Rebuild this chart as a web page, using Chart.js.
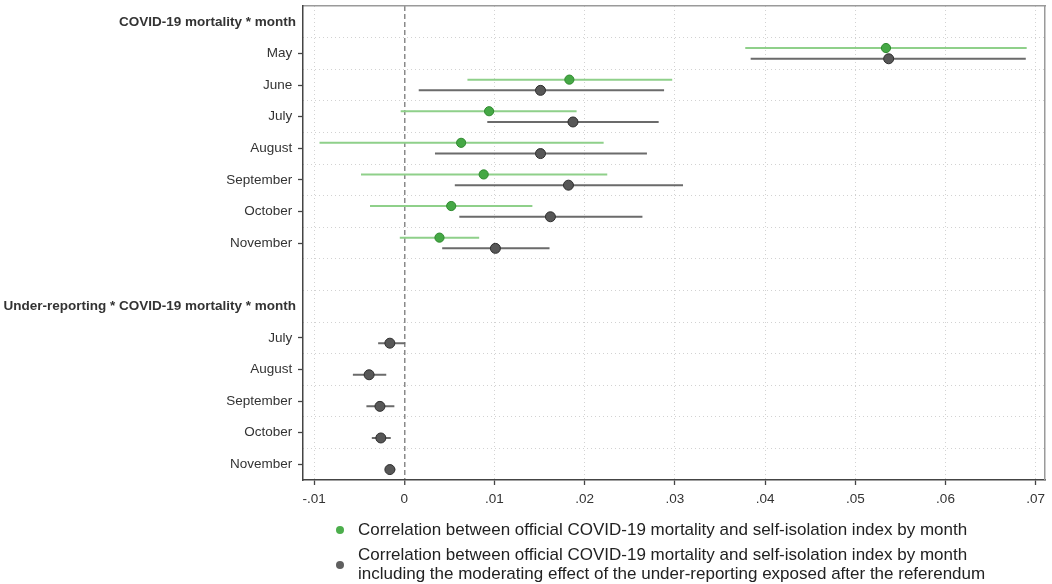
<!DOCTYPE html>
<html>
<head>
<meta charset="utf-8">
<script src="https://cdn.jsdelivr.net/npm/chart.js@4.4.1/dist/chart.umd.min.js"></script>
<style>
  body { margin: 0; background: #fff; }
  #wrap { position: relative; width: 1052px; height: 584px; }
  #legend { position: absolute; left: 0; top: 0; font-family: "Liberation Sans", Arial, sans-serif; color: #222; }
  .dot { position: absolute; width: 8px; height: 8px; border-radius: 50%; }
  .txt { position: absolute; font-size: 17px; line-height: 18.6px; white-space: nowrap; }
</style>
</head>
<body>
<div id="wrap">
  <canvas id="chart" width="1052" height="584"></canvas>
  <div id="legend">
    <div class="dot" style="left:336px;top:526px;background:#4cae4c;"></div>
    <div class="txt" style="left:358px;top:521px;">Correlation between official COVID-19 mortality and self-isolation index by month</div>
    <div class="dot" style="left:336px;top:561px;background:#5f5f5f;"></div>
    <div class="txt" style="left:358px;top:546px;">Correlation between official COVID-19 mortality and self-isolation index by month<br>including the moderating effect of the under-reporting exposed after the referendum</div>
  </div>
</div>
<script>
const header1 = "COVID-19 mortality * month";
const header2 = "Under-reporting * COVID-19 mortality * month";
const months1 = ["May", "June", "July", "August", "September", "October", "November"];
const months2 = ["July", "August", "September", "October", "November"];

// official mortality * month (green)
const greenEst = [0.0534, 0.0183, 0.0094, 0.0063, 0.0088, 0.0052, 0.0039];
const greenLo  = [0.0378, 0.0070, -0.0004, -0.0094, -0.0048, -0.0038, -0.0005];
const greenHi  = [0.0690, 0.0297, 0.0191, 0.0221, 0.0225, 0.0142, 0.0083];

// with under-reporting moderation (gray)
const grayEst = [0.0537, 0.0151, 0.0187, 0.0151, 0.0182, 0.0162, 0.0101];
const grayLo  = [0.0384, 0.0016, 0.0092, 0.0034, 0.0056, 0.0061, 0.0042];
const grayHi  = [0.0689, 0.0288, 0.0282, 0.0269, 0.0309, 0.0264, 0.0161];

// under-reporting * mortality * month
const underEst = [-0.0016, -0.0039, -0.0027, -0.0026, -0.0016];
const underLo  = [-0.0029, -0.0057, -0.0042, -0.0036, -0.0021];
const underHi  = [0.0001, -0.0020, -0.0011, -0.0015, -0.0010];

const xTicks = [-0.01, 0, 0.01, 0.02, 0.03, 0.04, 0.05, 0.06, 0.07];

const rowLabels = [header1, ...months1, "", header2, ...months2];
const headerRows = [0, rowLabels.indexOf(header2)];
const blankRow = months1.length + 1;
const firstRow1 = 1;
const firstRow2 = headerRows[1] + 1;
const off = 0.17;

function pts(est, start, dy) {
  return est.map((v, i) => ({ x: v, y: start + i + dy }));
}
function bars(lo, hi, start, dy) {
  const out = [];
  lo.forEach((v, i) => {
    out.push({ x: v, y: start + i + dy }, { x: hi[i], y: start + i + dy }, { x: null, y: null });
  });
  return out;
}
function fmt(v) {
  if (Math.abs(v) < 1e-9) return "0";
  const s = v.toFixed(2);
  return s.replace("0.", ".");
}

const FONT = "'Liberation Sans', Arial, sans-serif";

new Chart(document.getElementById("chart"), {
  type: "scatter",
  data: {
    datasets: [
      {
        data: pts(greenEst, firstRow1, -off),
        backgroundColor: "#45a845", borderColor: "#2f8a2f", borderWidth: 1, pointRadius: 4.6
      },
      {
        data: [...pts(grayEst, firstRow1, off), ...pts(underEst, firstRow2, off)],
        backgroundColor: "#575757", borderColor: "#2e2e2e", borderWidth: 1, pointRadius: 5
      },
      {
        data: bars(greenLo, greenHi, firstRow1, -off),
        showLine: true, borderColor: "#8fd08a", borderWidth: 2, pointRadius: 0, spanGaps: false
      },
      {
        data: [...bars(grayLo, grayHi, firstRow1, off), ...bars(underLo, underHi, firstRow2, off)],
        showLine: true, borderColor: "#6b6b6b", borderWidth: 2, pointRadius: 0, spanGaps: false
      }
    ]
  },
  options: {
    responsive: false,
    animation: false,
    events: [],
    layout: { padding: { top: 6, left: 0, right: 0, bottom: 0 } },
    plugins: { legend: { display: false }, tooltip: { enabled: false } },
    scales: {
      x: {
        type: "linear",
        position: "bottom",
        min: -0.01123,
        max: 0.07103,
        afterBuildTicks: s => { s.ticks = xTicks.map(v => ({ value: v })); },
        afterFit: s => { s.height = 104; },
        ticks: {
          callback: v => fmt(v),
          color: "#333",
          padding: 6,
          font: { family: FONT, size: 13.5 },
          maxRotation: 0
        },
        grid: {
          color: c => (c.tick && c.tick.value === 0 ? "#8a8a8a" : "#d2d2d2"),
          lineWidth: c => (c.tick && c.tick.value === 0 ? 1.5 : 1),
          tickColor: "#444",
          tickLength: 5,
          tickWidth: 1.3
        },
        border: {
          color: "#444",
          width: 1.5,
          dash: c => (c.tick && c.tick.value === 0 ? [5, 3] : [1, 3])
        }
      },
      xt: {
        type: "linear",
        position: "top",
        min: -0.01123,
        max: 0.07103,
        afterFit: s => { s.height = 0; },
        ticks: { display: false },
        grid: { display: false, drawTicks: false },
        border: { color: "#9a9a9a", width: 1.5 }
      },
      y: {
        type: "linear",
        position: "left",
        reverse: true,
        min: -0.5,
        max: rowLabels.length - 0.5,
        afterBuildTicks: s => { s.ticks = rowLabels.map((_, i) => ({ value: i })); },
        afterFit: s => { s.width = 303; s.paddingTop = 0; s.paddingBottom = 0; },
        ticks: {
          autoSkip: false,
          padding: 2,
          color: "#333",
          callback: v => (headerRows.includes(v) || v === blankRow ? rowLabels[v] : rowLabels[v] + " "),
          font: c => ({
            family: FONT,
            size: 13.5,
            weight: headerRows.includes(c.tick ? c.tick.value : -1) ? "bold" : "normal"
          })
        },
        grid: {
          drawOnChartArea: false,
          tickLength: 5,
          tickWidth: 1.3,
          tickColor: c => {
            const v = c.tick ? c.tick.value : -1;
            return headerRows.includes(v) || v === blankRow ? "rgba(0,0,0,0)" : "#444";
          }
        },
        border: { color: "#444", width: 1.5 }
      },
      yg: {
        type: "linear",
        position: "right",
        reverse: true,
        min: -0.5,
        max: rowLabels.length - 0.5,
        afterBuildTicks: s => {
          s.ticks = rowLabels.slice(1).map((_, i) => ({ value: i + 0.5 }));
        },
        afterFit: s => { s.width = 7; s.paddingTop = 0; s.paddingBottom = 0; },
        ticks: { display: false },
        grid: { color: "#d2d2d2", lineWidth: 1, drawTicks: false },
        border: { color: "#9a9a9a", width: 1.5, dash: [1, 3] }
      }
    }
  }
});
</script>
</body>
</html>
